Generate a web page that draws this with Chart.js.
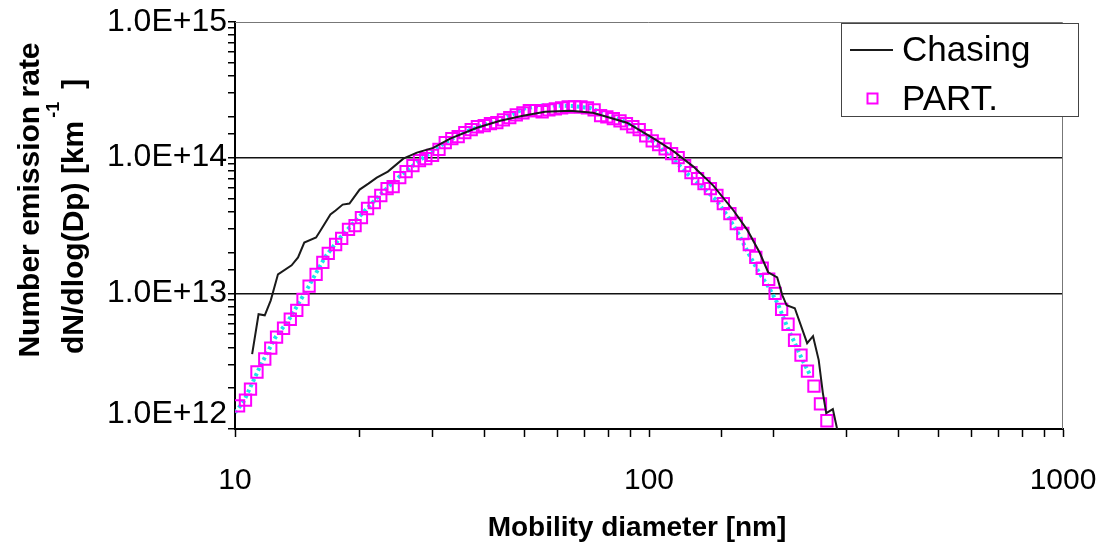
<!DOCTYPE html>
<html>
<head>
<meta charset="utf-8">
<title>Number emission rate</title>
<script src="https://cdn.jsdelivr.net/npm/chart.js@4.4.1/dist/chart.umd.min.js"></script>
<style>
  html, body { margin: 0; padding: 0; background: #fff; }
  #wrap { width: 1111px; height: 557px; }
</style>
</head>
<body>
<div id="wrap"><canvas id="myChart" width="1111" height="557"></canvas></div>
<script>
const FONT = "'Liberation Sans', Arial, sans-serif";

// SMPS channel diameters [nm] for the PART. series
const partDiameters = [
  10.2, 10.6, 10.9, 11.3, 11.8, 12.2, 12.6, 13.1, 13.6, 14.1,
  14.6, 15.1, 15.7, 16.3, 16.8, 17.5, 18.1, 18.8, 19.5, 20.2,
  20.9, 21.7, 22.5, 23.3, 24.1, 25.0, 25.9, 26.9, 27.9, 28.9,
  30.0, 31.1, 32.2, 33.4, 34.6, 35.9, 37.2, 38.5, 40.0, 41.4,
  42.9, 44.5, 46.1, 47.8, 49.6, 51.4, 53.3, 55.2, 57.3, 59.4,
  61.5, 63.8, 66.1, 68.5, 71.0, 73.7, 76.4, 79.1, 82.0, 85.1,
  88.2, 91.4, 94.7, 98.2, 101.8, 105.5, 109.4, 113.4, 117.6, 121.9,
  126.3, 131.0, 135.8, 140.7, 145.9, 151.2, 156.8, 162.5, 168.5, 174.7,
  181.1, 187.7, 194.6, 201.7, 209.1, 216.7, 224.7, 232.9, 241.4, 250.3,
  259.5, 269.0
];
const partValues = [
  1.48e12, 1.63e12, 1.97e12, 2.63e12, 3.28e12, 3.94e12, 4.75e12, 5.53e12, 6.44e12, 7.50e12,
  9.03e12, 1.13e13, 1.38e13, 1.69e13, 1.97e13, 2.29e13, 2.54e13, 2.96e13, 3.16e13, 3.62e13,
  4.22e13, 4.67e13, 5.26e13, 5.92e13, 6.12e13, 7.13e13, 7.89e13, 8.73e13, 9.51e13, 9.84e13,
  1.04e14, 1.15e14, 1.29e14, 1.38e14, 1.43e14, 1.53e14, 1.61e14, 1.69e14, 1.72e14, 1.78e14,
  1.81e14, 1.90e14, 1.97e14, 2.07e14, 2.14e14, 2.22e14, 2.22e14, 2.18e14, 2.25e14, 2.29e14,
  2.33e14, 2.37e14, 2.37e14, 2.37e14, 2.33e14, 2.25e14, 2.04e14, 2.00e14, 1.94e14, 1.87e14,
  1.78e14, 1.69e14, 1.61e14, 1.45e14, 1.33e14, 1.25e14, 1.16e14, 1.07e14, 1.00e14, 8.73e13,
  7.76e13, 7.01e13, 6.44e13, 5.92e13, 5.26e13, 4.59e13, 3.87e13, 3.27e13, 2.76e13, 2.29e13,
  1.84e13, 1.53e13, 1.27e13, 1.00e13, 7.62e12, 5.92e12, 4.51e12, 3.50e12, 2.67e12, 2.07e12,
  1.53e12, 1.15e12
];

// Chasing measurement (black line)
const chasingDiameters = [
  11.0, 11.4, 11.8, 12.2, 12.7, 13.7, 14.2, 14.7, 15.7, 16.2,
  17.0, 17.5, 18.2, 18.9, 20.0, 21.0, 22.0, 23.4, 25.5, 27.5,
  30.1, 33.1, 38.4, 43.7, 49.6, 56.1, 64.5, 73.2, 88.5, 102,
  114, 128, 143, 160, 173, 185, 194, 204, 210, 215,
  225, 241, 249, 257, 263, 268, 278, 286
];
const chasingValues = [
  3.56e12, 7.01e12, 6.89e12, 8.88e12, 1.38e13, 1.61e13, 1.84e13, 2.37e13, 2.58e13, 3.01e13,
  3.81e13, 4.08e13, 4.51e13, 4.59e13, 5.82e13, 6.44e13, 7.13e13, 7.89e13, 9.84e13, 1.09e14,
  1.18e14, 1.38e14, 1.66e14, 1.87e14, 2.04e14, 2.18e14, 2.22e14, 2.14e14, 1.81e14, 1.40e14,
  1.13e14, 8.59e13, 6.22e13, 4.08e13, 2.91e13, 2.00e13, 1.43e13, 1.31e13, 9.67e12, 8.16e12,
  7.76e12, 4.29e12, 4.83e12, 3.22e12, 1.84e12, 1.31e12, 1.40e12, 9.4e11
];

// cyan dotted curve, mostly hidden under the PART. squares
const fitDiameters = [
  9.8, 10.5, 11.5, 12.5, 13.5, 15, 16.5, 18, 20, 22.5,
  25, 28, 32, 36, 40, 45, 50, 55, 60, 66,
  72, 80, 88, 96, 105, 115, 125, 135, 145, 155,
  165, 175, 185, 195, 205, 215, 225, 235, 245
];
const fitValues = [
  1.22e12, 1.6e12, 2.9e12, 4.7e12, 6.4e12, 1.1e13, 1.85e13, 2.6e13, 3.7e13, 5.4e13,
  7.3e13, 9.6e13, 1.28e14, 1.55e14, 1.75e14, 1.97e14, 2.3e14, 2.42e14, 2.42e14, 2.4e14,
  2.32e14, 2.08e14, 1.82e14, 1.55e14, 1.22e14, 9.6e13, 7.4e13, 6.0e13, 4.9e13, 3.7e13,
  2.7e13, 1.9e13, 1.4e13, 1.1e13, 8.3e12, 5.8e12, 4.3e12, 3.2e12, 2.5e12
];

const xTickLabels = ['10', '100', '1000'];
const yTickLabels = ['1.0E+12', '1.0E+13', '1.0E+14', '1.0E+15'];
const xTitle = 'Mobility diameter [nm]';
const yTitle = ['Number emission rate', 'dN/dlog(Dp) [km', '-1', ']'];

const toPoints = (xs, ys) => xs.map((x, i) => ({ x: x, y: ys[i] }));
const decadeIndex = (v, base) => {
  const e = Math.log10(v / base);
  return Math.abs(e - Math.round(e)) < 1e-6 ? Math.round(e) : -1;
};

// grey frame on top/right of plot area
const framePlugin = {
  id: 'frame',
  beforeDatasetsDraw(chart) {
    const { ctx, chartArea: a } = chart;
    ctx.save();
    ctx.strokeStyle = '#777';
    ctx.lineWidth = 1;
    ctx.beginPath();
    ctx.moveTo(a.left, a.top + 0.5);
    ctx.lineTo(a.right - 0.5, a.top + 0.5);
    ctx.lineTo(a.right - 0.5, a.bottom);
    ctx.stroke();
    ctx.restore();
  }
};

// axis titles, lifted bottom y label and boxed legend
const decorPlugin = {
  id: 'decor',
  afterDraw(chart) {
    const c = chart.ctx;
    const y = chart.scales.y;
    c.save();
    c.fillStyle = '#000';
    c.textAlign = 'right';
    c.textBaseline = 'middle';
    c.font = '32px ' + FONT;
    c.fillText(yTickLabels[0], y.right - 8, y.getPixelForValue(y.min) - 15);
    c.textAlign = 'center';
    c.font = 'bold 28px ' + FONT;
    c.fillText(xTitle, 637, 528);
    c.restore();

    c.save();
    c.fillStyle = '#000';
    c.translate(31, 200);
    c.rotate(-Math.PI / 2);
    c.textAlign = 'center';
    c.textBaseline = 'middle';
    c.font = 'bold 30px ' + FONT;
    c.fillText(yTitle[0], 0, 0);
    c.restore();

    c.save();
    c.fillStyle = '#000';
    c.translate(75, 354);
    c.rotate(-Math.PI / 2);
    c.textAlign = 'left';
    c.textBaseline = 'middle';
    c.font = 'bold 30px ' + FONT;
    c.fillText(yTitle[1], 0, 0);
    const w = c.measureText(yTitle[1]).width;
    c.font = 'bold 18px ' + FONT;
    c.fillText(yTitle[2], w + 3, -21);
    c.font = 'bold 30px ' + FONT;
    c.fillText(yTitle[3], w + 32, 0);
    c.restore();

    // legend
    const ds = chart.data.datasets;
    c.save();
    c.fillStyle = '#fff';
    c.fillRect(841, 23, 237, 93);
    c.strokeStyle = '#444';
    c.lineWidth = 1;
    c.strokeRect(841.5, 23.5, 237, 93);
    c.strokeStyle = ds[0].borderColor;
    c.lineWidth = 2;
    c.beginPath();
    c.moveTo(850, 50);
    c.lineTo(893, 50);
    c.stroke();
    c.strokeStyle = ds[1].borderColor;
    c.strokeRect(867.5, 93.5, 10, 10);
    c.fillStyle = '#000';
    c.font = '35px ' + FONT;
    c.textAlign = 'left';
    c.textBaseline = 'middle';
    c.fillText(ds[0].label, 902, 51);
    c.fillText(ds[1].label, 902, 100);
    c.restore();
  }
};

const ctx = document.getElementById('myChart').getContext('2d');

const myChart = new Chart(ctx, {
  type: 'scatter',
  data: {
    datasets: [
      {
        label: 'Chasing',
        data: toPoints(chasingDiameters, chasingValues),
        showLine: true,
        borderColor: '#1a1a1a',
        borderWidth: 2,
        pointRadius: 0,
        tension: 0
      },
      {
        label: 'PART.',
        data: toPoints(partDiameters, partValues),
        showLine: false,
        pointStyle: 'rect',
        pointRadius: 8,
        borderColor: '#ff00ff',
        backgroundColor: 'rgba(0,0,0,0)',
        pointBorderWidth: 2,
        borderWidth: 2
      },
      {
        label: 'fit',
        data: toPoints(fitDiameters, fitValues),
        showLine: true,
        borderColor: '#19e3ea',
        borderWidth: 4,
        borderDash: [3, 3],
        pointRadius: 0,
        tension: 0
      }
    ]
  },
  options: {
    responsive: false,
    animation: false,
    devicePixelRatio: 1,
    layout: { padding: { left: 0, top: 22, right: 48, bottom: 0 } },
    plugins: {
      legend: { display: false },
      tooltip: { enabled: false }
    },
    scales: {
      x: {
        type: 'logarithmic',
        position: 'bottom',
        min: 10,
        max: 1000,
        border: { color: '#000', width: 2 },
        grid: { drawOnChartArea: false, drawTicks: true, tickLength: 8, tickColor: '#000', tickWidth: 1.5 },
        ticks: {
          autoSkip: false,
          maxRotation: 0,
          padding: 26,
          color: '#000',
          font: { family: FONT, size: 30 },
          callback: (v) => {
            const k = decadeIndex(v, 10);
            return k >= 0 && k < xTickLabels.length ? xTickLabels[k] : '';
          }
        },
        afterFit: (s) => { s.height = 128; s.paddingLeft = 0; s.paddingRight = 0; }
      },
      y: {
        type: 'logarithmic',
        min: 1e12,
        max: 1e15,
        border: { color: '#000', width: 2 },
        grid: {
          color: (c) => (c.tick && (decadeIndex(c.tick.value, 1e12) === 1 || decadeIndex(c.tick.value, 1e12) === 2)) ? '#111' : 'rgba(0,0,0,0)',
          lineWidth: 1.5,
          drawTicks: true,
          tickLength: 7,
          tickColor: '#000',
          tickWidth: 1.5
        },
        ticks: {
          autoSkip: false,
          padding: 1,
          color: '#000',
          font: { family: FONT, size: 32 },
          // the 1.0E+12 label is drawn lifted by the decor plugin
          callback: (v) => {
            const k = decadeIndex(v, 1e12);
            return k >= 1 && k < yTickLabels.length ? yTickLabels[k] : '';
          }
        },
        afterFit: (s) => { s.width = 235; }
      }
    }
  },
  plugins: [framePlugin, decorPlugin]
});
</script>
</body>
</html>
